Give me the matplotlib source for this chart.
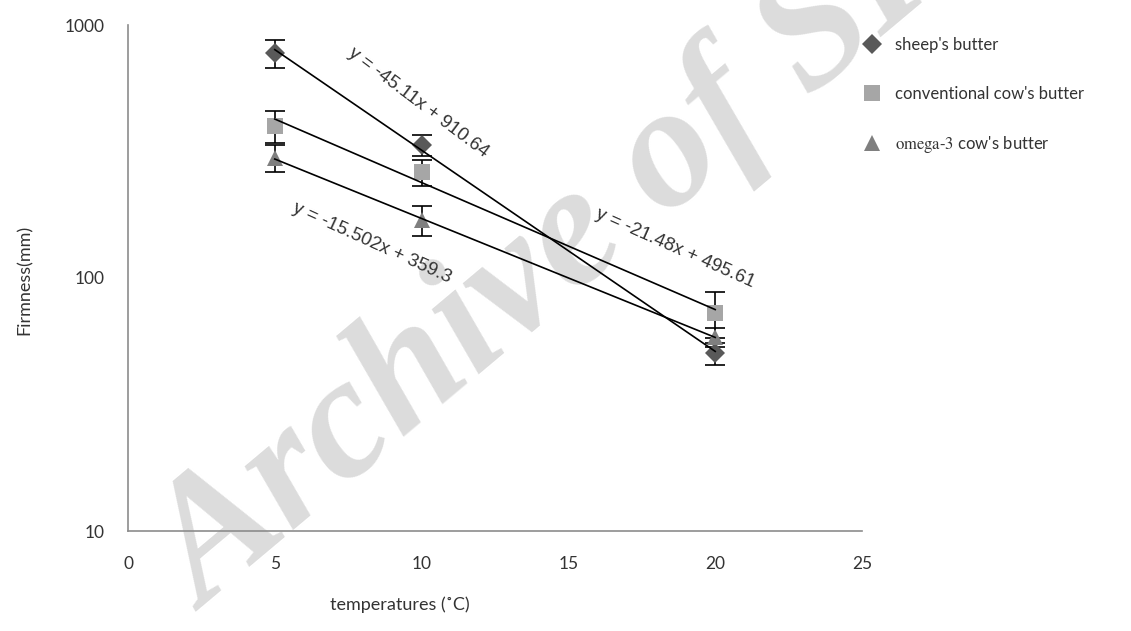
import matplotlib
matplotlib.use("Agg")
import matplotlib.pyplot as plt
import numpy as np

# temperatures (°C) and firmness (mm)
temperatures = [5, 10, 20]
sheep = [775, 335, 50.5]
sheep_err = [100, 31, 5]
conventional = [399, 262, 72.7]
conventional_err = [58, 30, 15]
omega3 = [298, 169.5, 58.5]
omega3_err = [36, 23, 5]

equations = ["y = -45.11x + 910.64", "y = -21.48x + 495.61", "y = -15.502x + 359.3"]
x_ticks = [0, 5, 10, 15, 20, 25]
y_ticks = [10, 100, 1000]

plt.rcParams['mathtext.fontset'] = 'stix'

fig = plt.figure(figsize=(11.31, 6.31), dpi=100)
ax = fig.add_axes([128 / 1131, 1 - 531 / 631, 734 / 1131, 506 / 631])
ax.set_facecolor('none')

series = [
    ("sheep's butter", sheep, sheep_err, 'D', '#595959', 10),
    ("conventional cow's butter", conventional, conventional_err, 's', '#a6a6a6', 12),
    (r"$\mathrm{omega\text{-}3}$ cow's butter", omega3, omega3_err, '^', '#7f7f7f', 12),
]

x = np.array(temperatures, dtype=float)
for label, vals, err, mk, col, ms in series:
    ax.errorbar(x, vals, yerr=err, fmt='none', ecolor='black', elinewidth=1.2,
                capsize=7, capthick=1.2, zorder=2)
    ax.plot(x, vals, linestyle='none', marker=mk, markersize=ms, color=col,
            markeredgewidth=0, label=label, zorder=3)
    # exponential trendline (straight on the log axis)
    k, b = np.polyfit(x, np.log10(vals), 1)
    xs = np.linspace(x.min(), x.max(), 50)
    ax.plot(xs, 10 ** (k * xs + b), color='black', lw=1.2, zorder=4)

ax.set_yscale('log')
ax.set_xlim(0, 25)
ax.set_ylim(10, 1000)
ax.set_xticks(x_ticks)
ax.set_yticks(y_ticks)
ax.set_xticklabels([str(t) for t in x_ticks])
ax.set_yticklabels([str(t) for t in y_ticks])
ax.minorticks_off()
ax.tick_params(length=0, labelsize=12.5, colors='#333333')
ax.tick_params(axis='x', pad=18)
ax.tick_params(axis='y', pad=17)
for lab in ax.get_xticklabels() + ax.get_yticklabels():
    lab.set_family('Lato')

for s in ['top', 'right']:
    ax.spines[s].set_visible(False)
for s in ['left', 'bottom']:
    ax.spines[s].set_color('#8c8c8c')
    ax.spines[s].set_linewidth(1.2)

fig.text(25 / 1131, 1 - 280 / 631, "Firmness(mm)", rotation=90, ha='center', va='center',
         fontsize=13, family='Lato', color='#333333')
fig.text(400 / 1131, 1 - 605 / 631, "temperatures (˚C)", ha='center', va='center',
         fontsize=13, family='Lato', color='#333333')

# trendline equations
eq_pos = [(9.88, 492, -37), (18.63, 131.5, -24), (8.31, 137, -24.5)]
for txt, (ex, ey, rot) in zip(equations, eq_pos):
    ax.text(ex, ey, txt, rotation=rot, ha='center', va='center', fontsize=13.5,
            family='Liberation Sans', color='#333333', zorder=5,
            rotation_mode='anchor')

leg = ax.legend(loc='upper left', bbox_to_anchor=(847 / 1131, 1 - 22 / 631),
                bbox_transform=fig.transFigure, frameon=False,
                labelspacing=1.95, handletextpad=0.8, handlelength=1.2,
                prop={'family': 'Lato', 'size': 12})
for t in leg.get_texts():
    t.set_color('#333333')

# watermark, behind the chart
fig.text(205 / 1131, 1 - 612 / 631, "Archive of SID", rotation=40, ha='left', va='baseline',
         rotation_mode='anchor', fontsize=125, family='Liberation Serif', style='italic',
         weight='bold', color='#dcdcdc', zorder=-1)

fig.savefig('out.png', dpi=100)
